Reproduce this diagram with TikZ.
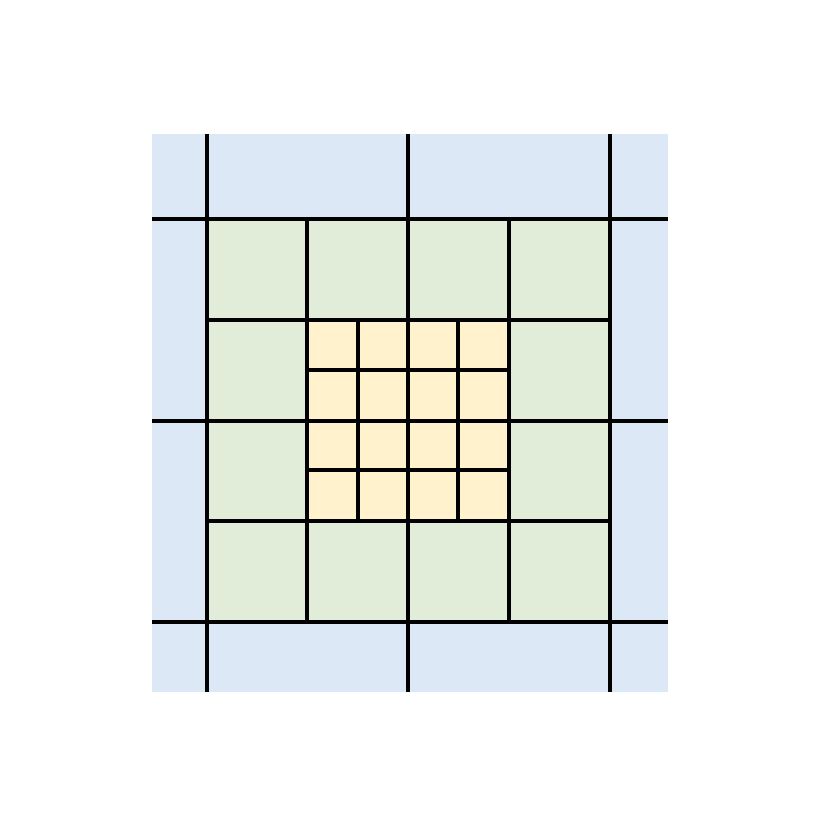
\documentclass[tikz,border=0pt]{standalone}
\begin{document}
\begin{tikzpicture}[x=1pt,y=-1pt,
  gridline/.style={line width=4.6pt,black,line cap=rect}]
\definecolor{cblue}{HTML}{DCE8F5}
\definecolor{cgreen}{HTML}{E1EDD8}
\definecolor{cyellow}{HTML}{FFF2CC}
\useasboundingbox (0,0) rectangle (813,830);
% backgrounds
\fill[cblue] (152,134) rectangle (668,692);
\fill[cgreen] (207,219) rectangle (610,622);
\fill[cyellow] (307,320) rectangle (509,521);
% outer lines
\foreach \x in {207,408,610} \draw[line width=4.6pt] (\x,134) -- (\x,692);
\foreach \y in {219,421,622} \draw[line width=4.6pt] (152,\y) -- (668,\y);
% green grid
\foreach \x in {307,509} \draw[gridline] (\x,219) -- (\x,622);
\foreach \y in {320,521} \draw[gridline] (207,\y) -- (610,\y);
% yellow grid
\foreach \x in {358,458} \draw[gridline] (\x,320) -- (\x,521);
\foreach \y in {370,470} \draw[gridline] (307,\y) -- (509,\y);
\end{tikzpicture}
\end{document}
